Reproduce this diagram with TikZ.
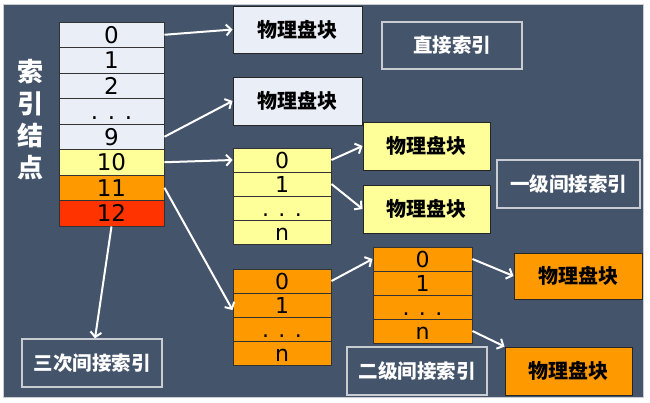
\documentclass[tikz,border=0pt]{standalone}
\usepackage{fontspec}
\setmainfont{DejaVu Sans}
\newfontfamily\cjk{Noto Sans CJK SC}
\usetikzlibrary{arrows.meta}
\definecolor{bg}{HTML}{44546A}
\definecolor{lightcell}{HTML}{E9EEF7}
\definecolor{ycell}{HTML}{FFFF99}
\definecolor{ocell}{HTML}{FF9900}
\definecolor{rcell}{HTML}{FF3300}
\definecolor{lblborder}{HTML}{C9CDD3}
\begin{document}
\begin{tikzpicture}[x=1pt,y=-1pt,
  cellA/.style={draw=black!80, line width=0.9pt, inner sep=0pt, minimum width=105pt, minimum height=25.5pt, text height=17pt, text depth=0pt, font=\fontsize{23}{23}\selectfont},
  cellB/.style={draw=black!80, line width=0.9pt, inner sep=0pt, minimum width=98pt, minimum height=24pt, text height=16.5pt, text depth=0pt, font=\fontsize{22}{22}\selectfont},
  phys/.style={draw=black!85, line width=1pt, inner sep=0pt, font=\cjk\bfseries\fontsize{20}{20}\selectfont},
  lbl/.style={draw=lblborder, line width=1.2pt, inner sep=0pt, text=white, font=\cjk\bfseries\fontsize{19.5}{19.5}\selectfont},
  arr/.style={draw=white, line width=2pt, -{Straight Barb[length=5pt,width=11pt]}}]
\useasboundingbox (0,0) rectangle (650,402);
\fill[white] (0,0) rectangle (650,402);
\filldraw[fill=bg, draw=lblborder, line width=1pt] (3,4) rectangle (643,397);
% side title
\node[text=white, align=center, inner sep=0pt, font=\cjk\bfseries\fontsize{26}{32}\selectfont] (title) at (30,119.5) {索\\引\\结\\点};
% main index column
\node[cellA, fill=lightcell] (m0) at (111.5,34.75) {0};
\node[cellA, fill=lightcell] (m1) at (111.5,60.25) {1};
\node[cellA, fill=lightcell] (m2) at (111.5,85.75) {2};
\node[cellA, fill=lightcell] (md) at (111.5,111.25) {. . .};
\node[cellA, fill=lightcell] (m9) at (111.5,136.75) {9};
\node[cellA, fill=ycell] (m10) at (111.5,162.25) {10};
\node[cellA, fill=ocell] (m11) at (111.5,187.75) {11};
\node[cellA, fill=rcell] (m12) at (111.5,213.25) {12};
% yellow single indirect block
\node[cellB, fill=ycell] (y0) at (282,160) {0};
\node[cellB, fill=ycell] (y1) at (282,184) {1};
\node[cellB, fill=ycell] (yd) at (282,208) {. . .};
\node[cellB, fill=ycell] (yn) at (282,232) {n};
% orange double indirect, first level
\node[cellB, fill=ocell] (a0) at (282,281) {0};
\node[cellB, fill=ocell] (a1) at (282,305) {1};
\node[cellB, fill=ocell] (ad) at (282,329) {. . .};
\node[cellB, fill=ocell] (an) at (282,353) {n};
% orange double indirect, second level
\node[cellB, fill=ocell, minimum width=99pt] (b0) at (422.5,259) {0};
\node[cellB, fill=ocell, minimum width=99pt] (b1) at (422.5,283) {1};
\node[cellB, fill=ocell, minimum width=99pt] (bd) at (422.5,307) {. . .};
\node[cellB, fill=ocell, minimum width=99pt] (bn) at (422.5,331) {n};
% physical blocks
\node[phys, fill=lightcell, minimum width=129pt, minimum height=47pt] (p1) at (297.5,29.5) {物理盘块};
\node[phys, fill=lightcell, minimum width=129pt, minimum height=48pt] (p2) at (297.5,101) {物理盘块};
\node[phys, fill=ycell, minimum width=127pt, minimum height=48pt] (q1) at (426.5,146) {物理盘块};
\node[phys, fill=ycell, minimum width=127pt, minimum height=48pt] (q2) at (426.5,209) {物理盘块};
\node[phys, fill=ocell, minimum width=128pt, minimum height=46pt] (r1) at (578,276) {物理盘块};
\node[phys, fill=ocell, minimum width=127pt, minimum height=48pt] (r2) at (568.5,371) {物理盘块};
% labels
\node[lbl, minimum width=140pt, minimum height=47pt] (L0) at (452,45.5) {直接索引};
\node[lbl, minimum width=143pt, minimum height=48pt] (L1) at (568.5,184) {一级间接索引};
\node[lbl, minimum width=140pt, minimum height=48pt] (L2) at (417,371) {二级间接索引};
\node[lbl, minimum width=140pt, minimum height=48pt] (L3) at (92,363) {三次间接索引};
% arrows
\draw[arr] (m0.east) -- (p1.west);
\draw[arr] (m9.east) -- (p2.west);
\draw[arr] (m10.east) -- (y0.west);
\draw[arr] (m11.east) -- ([yshift=-5pt]a1.west);
\draw[arr] (m12.south) -- ([xshift=3pt]L3.north);
\draw[arr] (y0.east) -- (q1.west);
\draw[arr] (y1.east) -- (q2.west);
\draw[arr] (a0.east) -- (b0.west);
\draw[arr] (b0.east) -- (r1.west);
\draw[arr] (bn.east) -- (r2.north west);
\end{tikzpicture}
\end{document}
